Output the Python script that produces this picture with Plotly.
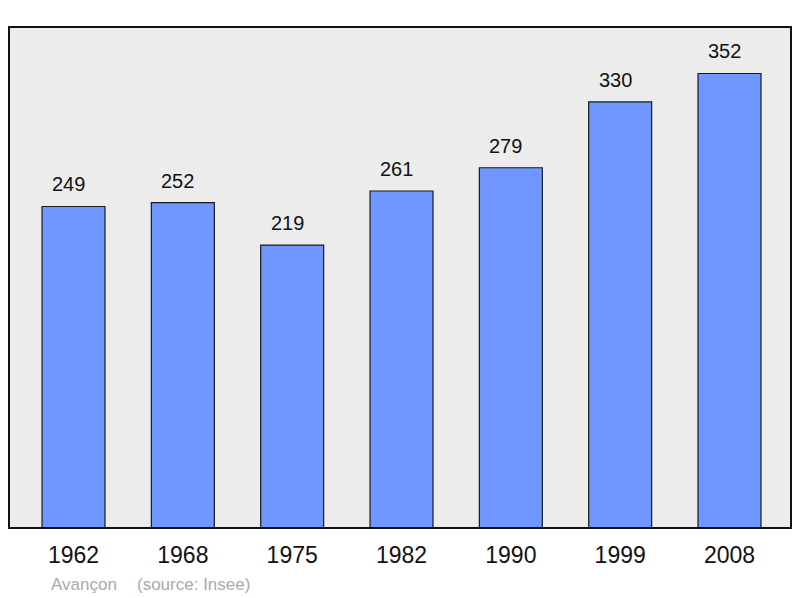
import plotly.graph_objects as go

years = ["1962", "1968", "1975", "1982", "1990", "1999", "2008"]
population = [249, 252, 219, 261, 279, 330, 352]
positions = list(range(len(years)))

FONT = "Liberation Sans, Arial, sans-serif"

fig = go.Figure()
fig.add_trace(go.Bar(
    x=positions, y=population, width=0.576,
    marker=dict(color="#7096ff", line=dict(color="#1a1a1a", width=1.2)),
    hoverinfo="skip",
))

for xi, v in zip(positions, population):
    fig.add_annotation(x=xi, y=v, text=str(v), showarrow=False,
                       yanchor="bottom", yshift=9, xshift=-5,
                       font=dict(family=FONT, size=20, color="#111"))

cap_y = -(584 - 528) / 501
fig.add_annotation(xref="paper", yref="paper", x=(49 - 9) / 782, y=cap_y,
                   text="Avançon", showarrow=False, xanchor="left", yanchor="middle",
                   font=dict(family=FONT, size=17, color="#aaaaaa"))
fig.add_annotation(xref="paper", yref="paper", x=(135 - 9) / 782, y=cap_y,
                   text="(source: Insee)", showarrow=False, xanchor="left", yanchor="middle",
                   font=dict(family=FONT, size=17, color="#aaaaaa"))

fig.add_shape(type="rect", xref="paper", yref="paper", x0=0, y0=0, x1=1, y1=1,
              line=dict(color="#111", width=2), layer="above")

fig.update_layout(
    width=800, height=598,
    margin=dict(l=9, r=9, t=27, b=70),
    paper_bgcolor="white", plot_bgcolor="#ececec",
    showlegend=False,
    font=dict(family=FONT),
    xaxis=dict(range=[-0.59, 6.5625], tickvals=positions, ticktext=years,
               showgrid=False, zeroline=False, ticks="outside", ticklen=6,
               tickcolor="rgba(0,0,0,0)", tickfont=dict(family=FONT, size=23, color="#111")),
    yaxis=dict(range=[0, 388], showgrid=False, zeroline=False, showticklabels=False),
)

fig.write_html("out.html", config={"displayModeBar": False},
               post_script="document.body.style.margin='0';document.body.style.overflow='hidden';")
